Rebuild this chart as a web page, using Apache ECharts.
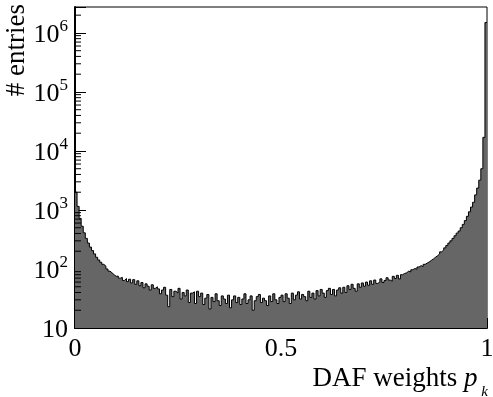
<!DOCTYPE html>
<html>
<head>
<meta charset="utf-8">
<script src="https://cdn.jsdelivr.net/npm/echarts@6/dist/echarts.min.js"></script>
<style>html,body{margin:0;padding:0;background:#fff;}#c{width:493px;height:397px;}</style>
</head>
<body>
<div id="c"></div>
<script>
// Histogram of DAF weights: 200 bins over [0,1]
const binWidth = 0.005;
const counts = [
  2000, 1150, 720, 530, 410, 330, 275, 235, 205, 180,
  158, 142, 130, 120, 112, 100, 92, 86, 80, 75,
  76, 70, 72, 64, 69, 61, 67, 58, 66, 55,
  63, 52, 59, 48, 56, 51, 44, 54, 47, 50,
  46, 38, 44, 49, 36, 23, 45, 34, 42, 39,
  47, 31, 40, 35, 44, 27, 39, 41, 26, 42,
  34, 39, 25, 32, 37, 21, 33, 28, 38, 29,
  24, 35, 31, 26, 36, 22, 30, 35, 27, 33,
  25, 31, 38, 26, 30, 35, 20, 29, 34, 37,
  27, 32, 29, 24, 35, 28, 38, 30, 26, 33,
  36, 28, 38, 32, 26, 39, 30, 36, 41, 31,
  37, 34, 29, 42, 33, 39, 31, 43, 35, 45,
  39, 33, 43, 47, 37, 45, 35, 44, 48, 39,
  49, 40, 52, 45, 55, 47, 42, 56, 49, 58,
  51, 60, 53, 63, 55, 65, 57, 60, 68, 59,
  64, 71, 65, 62, 75, 69, 78, 68, 80, 84,
  86, 92, 89, 97, 102, 99, 108, 114, 110, 120,
  126, 132, 140, 148, 158, 168, 180, 195, 210, 228,
  250, 275, 300, 330, 365, 405, 440, 500, 570, 660,
  780, 930, 1120, 1350, 1800, 2350, 3200, 5000, 17000, 1500000
];
const xTicks = [0, 0.5, 1];
const yMin = 10, yMax = 2.75e6;
const yDecades = [1, 2, 3, 4, 5, 6];

const SERIF = '"Liberation Serif", "Times New Roman", serif';

// step data: left edge of each bin, plus closing point at x=1
const stepData = counts.map((c, i) => [i * binWidth, c]);
stepData.push([counts.length * binWidth, counts[counts.length - 1]]);

// minor log ticks (2..9 x 10^n)
const minorTickVals = [];
yDecades.forEach(n => {
  for (let k = 2; k <= 9; k++) {
    const v = k * Math.pow(10, n);
    if (v <= yMax) minorTickVals.push([0, v]);
  }
});

const chart = echarts.init(document.getElementById('c'), null, {renderer: 'canvas'});
chart.setOption({
  animation: false,
  backgroundColor: '#fff',
  grid: {left: 75, right: 6, top: 7, bottom: 69, show: true, borderColor: '#000', borderWidth: 1,
         backgroundColor: 'transparent', containLabel: false, outerBoundsMode: 'none'},
  xAxis: {
    type: 'value', min: 0, max: 1, interval: 0.5,
    axisLine: {show: true, onZero: false, lineStyle: {color: '#000', width: 2}},
    axisTick: {show: true, inside: true, length: 10, lineStyle: {color: '#000', width: 1}},
    minorTick: {show: true, splitNumber: 2, length: 5, lineStyle: {color: '#000', width: 1}},
    splitLine: {show: false},
    axisLabel: {
      margin: 8, color: '#000', fontFamily: SERIF, fontSize: 26, hideOverlap: false,
      formatter: v => (xTicks.indexOf(v) >= 0 ? String(v) : '')
    }
  },
  yAxis: {
    type: 'log', logBase: 10, min: yMin, max: yMax,
    axisLine: {show: true, onZero: false, lineStyle: {color: '#000', width: 2}},
    axisTick: {show: true, inside: true, length: 11, lineStyle: {color: '#000', width: 1}},
    splitLine: {show: false},
    axisLabel: {
      margin: 7, color: '#000', fontFamily: SERIF,
      formatter: function (v) {
        const e = Math.log10(v);
        const r = Math.round(e);
        if (Math.abs(e - r) > 1e-6) return '';
        if (r === 1) return '{b|10}';
        return '{b|10}{s|' + r + '}';
      },
      rich: {
        b: {fontSize: 26, fontFamily: SERIF, color: '#000', lineHeight: 30, verticalAlign: 'bottom', padding: [6, 0, 0, 0]},
        s: {fontSize: 17, fontFamily: SERIF, color: '#000', lineHeight: 16, verticalAlign: 'top'}
      }
    }
  },
  series: [
    {
      type: 'line',
      step: 'end',
      data: stepData,
      symbol: 'none',
      lineStyle: {color: '#000', width: 1},
      areaStyle: {color: '#666666', opacity: 1, origin: 'start'},
      z: 2
    },
    {
      type: 'custom',
      data: minorTickVals,
      clip: false,
      z: 5,
      renderItem: function (params, api) {
        const p = api.coord([api.value(0), api.value(1)]);
        return {
          type: 'line',
          shape: {x1: p[0], y1: p[1], x2: p[0] + 6, y2: p[1]},
          style: {stroke: '#000', lineWidth: 1}
        };
      }
    }
  ],
  graphic: [
    {
      type: 'text', x: 3, y: 4, rotation: Math.PI / 2,
      style: {text: '# entries', font: '27px ' + SERIF, fill: '#000', align: 'right', verticalAlign: 'top'}
    },
    {
      type: 'text', x: 488, y: 360,
      style: {
        text: '{a|DAF weights }{p|p}{k| k}',
        align: 'right', verticalAlign: 'top',
        rich: {
          a: {fontSize: 27, fontFamily: SERIF, fill: '#000', lineHeight: 32, verticalAlign: 'bottom'},
          p: {fontSize: 27, fontFamily: SERIF, fontStyle: 'italic', fill: '#000', lineHeight: 32, verticalAlign: 'bottom'},
          k: {fontSize: 15, fontFamily: SERIF, fontStyle: 'italic', fill: '#000', lineHeight: 16, verticalAlign: 'bottom', padding: [0, 0, -8, 0]}
        }
      }
    }
  ]
});
</script>
</body>
</html>
